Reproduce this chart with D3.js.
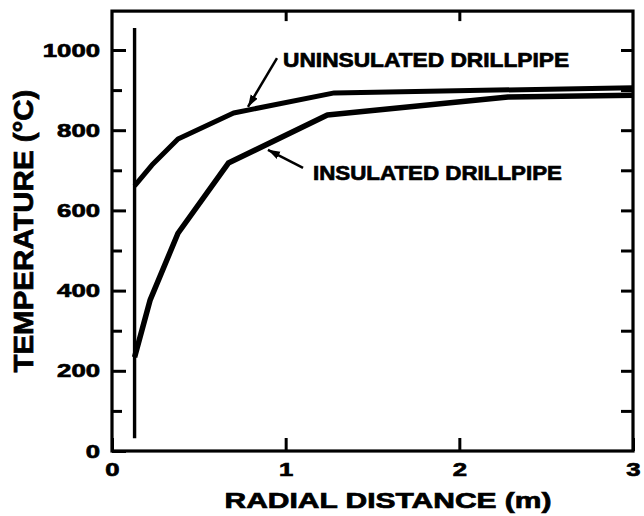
<!DOCTYPE html>
<html>
<head>
<meta charset="utf-8">
<script src="https://cdn.jsdelivr.net/npm/d3@7"></script>
<style>
  body { margin: 0; background: #fff; }
  svg { display: block; }
  text { font-family: "Liberation Sans", Arial, sans-serif; font-weight: bold; fill: #000; stroke: #000; stroke-width: 0.7px; }
</style>
</head>
<body>
<svg id="chart" width="644" height="516"></svg>
<script>
// values (radial distance in m, temperature in degC)
const uninsulatedX = [0.13, 0.23, 0.38, 0.70, 1.28, 3.0];
const uninsulatedY = [661, 713, 778, 843, 893, 906];
const insulatedX = [0.13, 0.22, 0.38, 0.67, 1.24, 2.28, 3.0];
const insulatedY = [234, 377, 543, 718, 838, 883, 887];

// the thin vertical line (drillpipe wall)
const wallX = [0.13, 0.13];
const wallY = [32, 1055];

const xTicks = [0, 1, 2, 3];
const yMajorTicks = [0, 200, 400, 600, 800, 1000];
const yMinorTicks = [100, 300, 500, 700, 900];
const yRightTicks = [100, 200, 300, 400, 500, 600, 700, 800, 900, 1000];

const labels = ["UNINSULATED DRILLPIPE", "INSULATED DRILLPIPE"];
const labelX = [0.985, 1.157];
const labelY = [957, 676];
const labelWidth = [286, 249];
// arrow start / end in data units
const arrowFrom = [[0.95, 980], [1.10, 706]];
const arrowTo = [[0.783, 858], [0.898, 751]];

const xMax = 3, yMax = 1097;

const svg = d3.select("#chart");
const x = d3.scaleLinear().domain([0, xMax]).range([112, 633]);
const y = d3.scaleLinear().domain([0, 1000]).range([451, 50]);

svg.append("defs").append("marker")
    .attr("id", "head")
    .attr("markerUnits", "userSpaceOnUse")
    .attr("markerWidth", 14)
    .attr("markerHeight", 10)
    .attr("refX", 12)
    .attr("refY", 4)
    .attr("orient", "auto")
  .append("path")
    .attr("d", "M0,0 L12,4 L0,8 Z")
    .attr("fill", "#000");

function styleTickText(sel, perChar) {
    sel.selectAll("text")
        .style("font-size", "19px")
        .attr("textLength", d => String(d).length * perChar)
        .attr("lengthAdjust", "spacingAndGlyphs");
}

// left axis: major ticks with labels, minor ticks without
const left = svg.append("g")
    .attr("transform", `translate(${x(0)},0)`)
    .call(d3.axisLeft(y).tickValues(yMajorTicks).tickSize(-14).tickPadding(12).tickFormat(d3.format("d")));
styleTickText(left, 14.3);
svg.append("g")
    .attr("transform", `translate(${x(0)},0)`)
    .call(d3.axisLeft(y).tickValues(yMinorTicks).tickSize(-10).tickFormat(""));

// right axis
svg.append("g")
    .attr("transform", `translate(${x(xMax)},0)`)
    .call(d3.axisRight(y).tickValues(yRightTicks).tickSize(-12).tickFormat(""));

// top axis
svg.append("g")
    .attr("transform", `translate(0,${y(yMax)})`)
    .call(d3.axisTop(x).tickValues([1, 2]).tickSize(-10).tickFormat(""));

// bottom axis
const bottom = svg.append("g")
    .attr("transform", `translate(0,${y(0)})`)
    .call(d3.axisBottom(x).tickValues(xTicks).tickSize(-13).tickPadding(12).tickFormat(d3.format("d")));
styleTickText(bottom, 14.3);

svg.selectAll(".domain").remove();
svg.selectAll(".tick line").attr("stroke", "#000").attr("stroke-width", 3);
svg.selectAll(".tick text").attr("fill", "#000");

// frame
svg.append("rect")
    .attr("x", x(0))
    .attr("y", y(yMax))
    .attr("width", x(xMax) - x(0))
    .attr("height", y(0) - y(yMax))
    .attr("fill", "none")
    .attr("stroke", "#000")
    .attr("stroke-width", 3.2);

const line = d3.line()
    .x(d => x(d[0]))
    .y(d => y(d[1]));

svg.append("path")
    .datum(d3.zip(wallX, wallY))
    .attr("fill", "none")
    .attr("stroke", "#000")
    .attr("stroke-width", 3.4)
    .attr("d", line);

svg.append("path")
    .datum(d3.zip(uninsulatedX, uninsulatedY))
    .attr("fill", "none")
    .attr("stroke", "#000")
    .attr("stroke-width", 5)
    .attr("stroke-linejoin", "round")
    .attr("d", line);

svg.append("path")
    .datum(d3.zip(insulatedX, insulatedY))
    .attr("fill", "none")
    .attr("stroke", "#000")
    .attr("stroke-width", 5.5)
    .attr("stroke-linejoin", "round")
    .attr("d", line);

// annotations
labels.forEach((t, i) => {
    svg.append("text")
        .attr("x", x(labelX[i]))
        .attr("y", y(labelY[i]))
        .style("font-size", "20px")
        .attr("textLength", labelWidth[i])
        .attr("lengthAdjust", "spacingAndGlyphs")
        .text(t);

    svg.append("line")
        .attr("x1", x(arrowFrom[i][0]))
        .attr("y1", y(arrowFrom[i][1]))
        .attr("x2", x(arrowTo[i][0]))
        .attr("y2", y(arrowTo[i][1]))
        .attr("stroke", "#000")
        .attr("stroke-width", 2.5)
        .attr("marker-end", "url(#head)");
});

// axis titles
svg.append("text")
    .attr("x", 388)
    .attr("y", 508)
    .attr("text-anchor", "middle")
    .style("font-size", "22px")
    .attr("textLength", 327)
    .attr("lengthAdjust", "spacingAndGlyphs")
    .text("RADIAL DISTANCE (m)");

svg.append("text")
    .attr("transform", `translate(33,${(y(0) + y(yMax)) / 2}) rotate(-90)`)
    .attr("text-anchor", "middle")
    .style("font-size", "27px")
    .attr("textLength", 283)
    .attr("lengthAdjust", "spacingAndGlyphs")
    .text("TEMPERATURE (°C)");
</script>
</body>
</html>
